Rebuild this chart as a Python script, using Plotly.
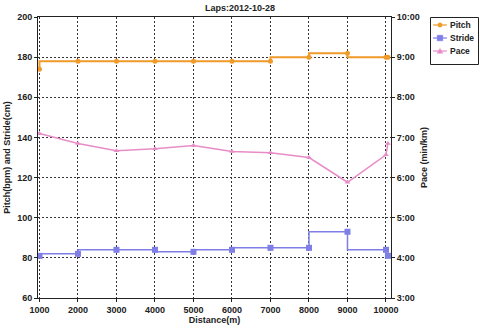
import plotly.graph_objects as go

series_names = ["Pitch", "Stride", "Pace"]
distance = [1000, 2000, 3000, 4000, 5000, 6000, 7000, 8000, 9000, 10000, 10050]
pitch = [174, 178, 178, 178, 178, 178, 178, 180, 182, 180, 180]
stride = [81, 82, 84, 84, 83, 84, 85, 85, 93, 84, 81]
pace = ["7:06", "6:51", "6:40", "6:43", "6:48", "6:39", "6:37", "6:30", "5:53", "6:34", "6:51"]

x_ticks = [1000, 2000, 3000, 4000, 5000, 6000, 7000, 8000, 9000, 10000]
left_ticks = [60, 80, 100, 120, 140, 160, 180, 200]
pace_tick_labels = ["3:00", "4:00", "5:00", "6:00", "7:00", "8:00", "9:00", "10:00"]


def to_sec(s):
    m, sec = s.split(":")
    return int(m) * 60 + int(sec)


pace_sec = [to_sec(p) for p in pace]
pace_tick_vals = [to_sec(t) for t in pace_tick_labels]

C_PITCH = "#F09A2A"
C_STRIDE = "#7E7EE6"
C_PACE = "#E88CC8"
colors = [C_PITCH, C_STRIDE, C_PACE]
FONT = "Liberation Sans"
TXT = "#222"

W, H = 480, 329
ML, MR, MT, MB = 38, 89, 17, 31
PW, PH = W - ML - MR, H - MT - MB

fig = go.Figure()
fig.add_trace(go.Scatter(
    x=distance, y=pitch, name=series_names[0], mode="lines+markers",
    line=dict(color=C_PITCH, width=2, shape="vh"),
    marker=dict(symbol="circle", size=5, color=C_PITCH)))
fig.add_trace(go.Scatter(
    x=distance, y=stride, name=series_names[1], mode="lines+markers",
    line=dict(color=C_STRIDE, width=1.5, shape="vh"),
    marker=dict(symbol="square", size=6, color=C_STRIDE)))
fig.add_trace(go.Scatter(
    x=distance, y=pace_sec, name=series_names[2], mode="lines+markers", yaxis="y2",
    line=dict(color=C_PACE, width=1.5),
    marker=dict(symbol="triangle-up", size=5, color=C_PACE)))


def px_x(px):
    return (px - ML) / PW


def px_y(py):
    return 1 - (py - MT) / PH


# compact legend box (drawn with shapes + annotations)
shapes = [dict(type="rect", xref="paper", yref="paper",
               x0=px_x(430.5), x1=px_x(478.5), y0=px_y(64.5), y1=px_y(17.5),
               line=dict(color=TXT, width=1), fillcolor="white", layer="above")]
annotations = []
row_y = [25, 38, 51]
mx = 440
for i, name in enumerate(series_names):
    cy = px_y(row_y[i])
    col = colors[i]
    shapes.append(dict(type="line", xref="paper", yref="paper",
                       x0=px_x(433), x1=px_x(447), y0=cy, y1=cy,
                       line=dict(color=col, width=1.2), layer="above"))
    common = dict(xref="paper", yref="paper", xsizemode="pixel", ysizemode="pixel",
                  xanchor=px_x(mx), yanchor=cy, fillcolor=col,
                  line=dict(color=col, width=0.5), layer="above")
    if i == 0:
        shapes.append(dict(type="circle", x0=-2.2, x1=2.2, y0=-2.2, y1=2.2, **common))
    elif i == 1:
        shapes.append(dict(type="rect", x0=-2.8, x1=2.8, y0=-2.8, y1=2.8, **common))
    else:
        shapes.append(dict(type="path", path="M -2.8 -2.2 L 2.8 -2.2 L 0 2.6 Z", **common))
    annotations.append(dict(xref="paper", yref="paper", x=px_x(448), y=cy,
                            xanchor="left", yanchor="middle", showarrow=False,
                            text="<b>%s</b>" % name,
                            font=dict(family=FONT, size=8.5, color=TXT)))

tick_font = dict(family=FONT, size=9, color=TXT, weight="bold")
title_font = dict(family=FONT, size=9, color=TXT)
grid = dict(showgrid=True, gridcolor="#333", griddash="2px,2px", gridwidth=1)

fig.update_layout(
    width=W, height=H,
    margin=dict(l=ML, r=MR, t=MT, b=MB, autoexpand=False),
    paper_bgcolor="white", plot_bgcolor="white",
    title=dict(text="<b>Laps:2012-10-28</b>", x=0.5, xref="container", xanchor="center",
               y=1 - 8 / H, yanchor="middle",
               font=dict(family=FONT, size=9, color=TXT)),
    showlegend=False,
    shapes=shapes, annotations=annotations,
    xaxis=dict(range=[962, 10130], tickvals=x_ticks, tickformat="d", ticks="outside", ticklen=3,
               tickcolor=TXT, showline=True, linecolor=TXT, linewidth=1, mirror=True,
               zeroline=False, tickfont=tick_font,
               title=dict(text="<b>Distance(m)</b>", font=title_font, standoff=2), **grid),
    yaxis=dict(range=[60, 200], tickvals=left_ticks, ticks="outside", ticklen=3,
               tickcolor=TXT, showline=True, linecolor=TXT, linewidth=1,
               zeroline=False, tickfont=tick_font,
               title=dict(text="<b>Pitch(bpm) and Stride(cm)</b>", font=title_font, standoff=5),
               **grid),
    yaxis2=dict(range=[180, 600], overlaying="y", side="right",
                tickvals=pace_tick_vals, ticktext=pace_tick_labels,
                ticks="outside", ticklen=3, tickcolor=TXT,
                showline=True, linecolor=TXT, linewidth=1,
                showgrid=False, zeroline=False, tickfont=tick_font,
                title=dict(text="<b>Pace (min/km)</b>", font=title_font, standoff=1)),
)

fig.write_html("out.html", config={"displayModeBar": False},
               post_script="document.body.style.margin='0';")
